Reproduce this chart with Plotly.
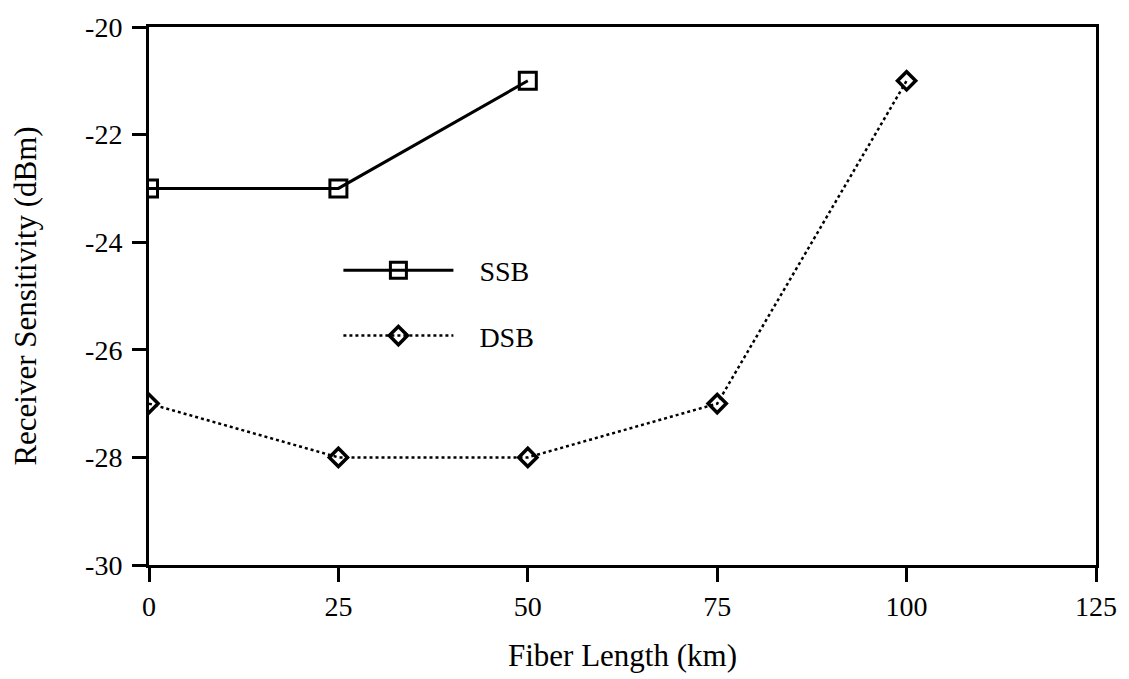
import plotly.graph_objects as go

# Fiber length (km) and measured receiver sensitivity (dBm)
ssb_length = [0, 25, 50]
ssb_sens = [-23, -23, -21]
dsb_length = [0, 25, 50, 75, 100]
dsb_sens = [-27, -28, -28, -27, -21]

x_ticks = [0, 25, 50, 75, 100, 125]
y_ticks = [-30, -28, -26, -24, -22, -20]

FONT = "Liberation Serif"
NBSP = "\u00a0"

fig = go.Figure()
fig.add_trace(go.Scatter(
    x=ssb_length, y=ssb_sens, name=NBSP * 3 + "SSB", mode="lines+markers",
    legendgroup="ssb",
    line=dict(color="black", width=3),
    marker=dict(symbol="square-open", size=17, color="black",
                line=dict(width=3, color="black")),
))
fig.add_trace(go.Scatter(
    x=dsb_length, y=dsb_sens, name=NBSP * 3 + "DSB", mode="lines+markers",
    legendgroup="dsb",
    line=dict(color="black", width=2.5, dash="dot"),
    marker=dict(symbol="diamond-open", size=14, color="black",
                line=dict(width=3.5, color="black")),
))

axis_common = dict(
    showline=True, linecolor="black", linewidth=3, mirror=True,
    ticks="outside", ticklen=14, tickwidth=3, tickcolor="black",
    showgrid=False, zeroline=False,
    tickfont=dict(family=FONT, size=28, color="black"),
)

fig.update_layout(
    width=1129, height=679,
    margin=dict(l=149, r=32, t=24, b=109),
    plot_bgcolor="white", paper_bgcolor="white",
    font=dict(family=FONT, size=28, color="black"),
    xaxis=dict(range=[0, 125], tickvals=x_ticks, ticktext=[str(v) for v in x_ticks],
               title=dict(text="Fiber Length (km)", standoff=24,
                          font=dict(family=FONT, size=31)),
               **axis_common),
    yaxis=dict(range=[-30, -20], tickvals=y_ticks, ticktext=[str(v) for v in y_ticks],
               ticklabelstandoff=4,
               title=dict(text="Receiver Sensitivity (dBm)", standoff=40,
                          font=dict(family=FONT, size=31)),
               **axis_common),
    legend=dict(x=0.2, y=0.487, xanchor="left", yanchor="middle",
                bgcolor="rgba(0,0,0,0)", itemwidth=110, tracegroupgap=26,
                font=dict(family=FONT, size=28, color="black")),
)

fig.write_html("out.html")
